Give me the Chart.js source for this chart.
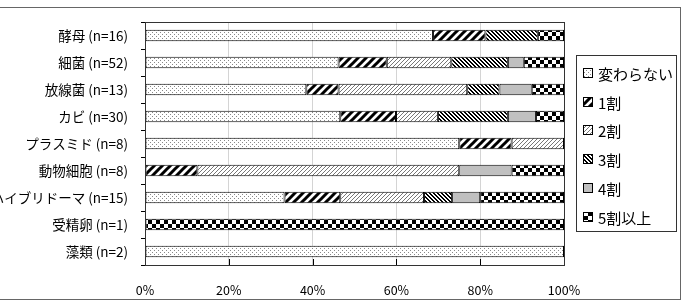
<!DOCTYPE html>
<html>
<head>
<meta charset="utf-8">
<script src="https://cdn.jsdelivr.net/npm/chart.js@4"></script>
<style>
  body { margin: 0; background: #fff; }
  #wrap { width: 687px; height: 301px; }
</style>
</head>
<body>
<div id="wrap"><canvas id="myChart"></canvas></div>
<script>
const categories = ["酵母 (n=16)", "細菌 (n=52)", "放線菌 (n=13)", "カビ (n=30)", "プラスミド (n=8)", "動物細胞 (n=8)", "ハイブリドーマ (n=15)", "受精卵 (n=1)", "藻類 (n=2)"];
const seriesNames = ["変わらない", "1割", "2割", "3割", "4割", "5割以上"];
const noChange = [68.75, 46.2, 38.5, 46.6, 75.0, 0, 33.3, 0, 100];
const down10 = [12.5, 11.5, 7.7, 13.3, 12.5, 12.5, 13.3, 0, 0];
const down20 = [0, 15.4, 30.7, 10.0, 12.5, 62.5, 20.0, 0, 0];
const down30 = [12.5, 13.5, 7.7, 16.7, 0, 0, 6.7, 0, 0];
const down40 = [0, 3.8, 7.7, 6.7, 0, 12.5, 6.7, 0, 0];
const down50 = [6.25, 9.6, 7.7, 6.7, 0, 12.5, 20.0, 100, 0];
const xTicks = [0, 20, 40, 60, 80, 100];

document.addEventListener("DOMContentLoaded", chart);

function makePattern(w, h, draw) {
  const c = document.createElement("canvas");
  c.width = w;
  c.height = h;
  const g = c.getContext("2d");
  g.fillStyle = "#fff";
  g.fillRect(0, 0, w, h);
  draw(g);
  return g.createPattern(c, "repeat");
}

function patterns() {
  const dots = makePattern(4, 4, (g) => {
    g.fillStyle = "#888";
    g.fillRect(0, 0, 1, 1);
    g.fillRect(2, 2, 1, 1);
  });
  const bold = makePattern(8, 8, (g) => {
    g.strokeStyle = "#000";
    g.lineWidth = 3;
    g.beginPath();
    g.moveTo(-2, 2); g.lineTo(2, -2);
    g.moveTo(0, 8); g.lineTo(8, 0);
    g.moveTo(6, 10); g.lineTo(10, 6);
    g.stroke();
  });
  const fine = makePattern(4, 4, (g) => {
    g.fillStyle = "#777";
    for (let i = 0; i < 4; i++) g.fillRect(3 - i, i, 1, 1);
  });
  const back = makePattern(4, 4, (g) => {
    g.fillStyle = "#000";
    for (let i = 0; i < 4; i++) {
      g.fillRect(i, i, 1, 1);
      g.fillRect((i + 1) % 4, i, 1, 1);
    }
  });
  const checker = makePattern(8, 8, (g) => {
    g.fillStyle = "#000";
    g.fillRect(0, 0, 4, 4);
    g.fillRect(4, 4, 4, 4);
  });
  return [dots, bold, fine, back, "#c0c0c0", checker];
}

const frame = {
  id: "frame",
  beforeDraw(chart) {
    const ctx = chart.ctx;
    ctx.save();
    ctx.fillStyle = "#fff";
    ctx.fillRect(0, 0, chart.width, chart.height);
    ctx.strokeStyle = "#666";
    ctx.lineWidth = 1;
    ctx.strokeRect(-5.5, 7.5, 686, 292);
    ctx.restore();
  },
  afterDraw(chart) {
    const ctx = chart.ctx;
    const a = chart.chartArea;
    const x = chart.scales.x;
    ctx.save();
    ctx.strokeStyle = "#333";
    ctx.lineWidth = 1;
    ctx.strokeRect(a.left + 0.5, a.top + 0.5, a.right - a.left, a.bottom - a.top);
    ctx.strokeStyle = "#000";
    ctx.beginPath();
    xTicks.slice(1, -1).forEach((v) => {
      const px = Math.round(x.getPixelForValue(v)) + 0.5;
      ctx.moveTo(px, a.bottom - 6);
      ctx.lineTo(px, a.bottom);
    });
    ctx.stroke();

    // legend box
    ctx.strokeStyle = "#333";
    ctx.strokeRect(576.5, 55.5, 100, 176);
    ctx.font = '15px "Noto Sans CJK JP", sans-serif';
    ctx.textBaseline = "middle";
    chart.data.datasets.forEach((ds, i) => {
      const y = Math.round(73 + i * 28.7);
      ctx.fillStyle = ds.backgroundColor;
      ctx.fillRect(583, y - 5, 10, 10);
      ctx.strokeStyle = "#000";
      ctx.strokeRect(583.5, y - 4.5, 9, 9);
      ctx.fillStyle = "#000";
      ctx.fillText(ds.label, 598, y + 1);
    });
    ctx.restore();
  },
};

function chart() {
  const ctx = document.getElementById("myChart");
  const fills = patterns();
  const values = [noChange, down10, down20, down30, down40, down50];
  Chart.defaults.font.family = '"Noto Sans CJK JP", sans-serif';

  new Chart(ctx, {
    type: "bar",
    data: {
      labels: categories,
      datasets: seriesNames.map((name, i) => ({
        label: name,
        data: values[i],
        backgroundColor: fills[i],
        borderColor: "#000",
        borderWidth: 1,
        borderSkipped: false,
        barPercentage: 0.43,
        categoryPercentage: 1,
      })),
    },
    options: {
      indexAxis: "y",
      responsive: true,
      maintainAspectRatio: false,
      animation: false,
      layout: { padding: { top: 22, right: 123, left: 0, bottom: 0 } },
      plugins: {
        legend: { display: false },
        tooltip: { enabled: false },
      },
      scales: {
        x: {
          stacked: true,
          min: 0,
          max: 100,
          afterBuildTicks: (s) => {
            s.ticks = xTicks.map((v) => ({ value: v }));
          },
          ticks: {
            callback: (v) => v + "%",
            color: "#000",
            font: { size: 12.5 },
            padding: 18,
            maxRotation: 0,
          },
          grid: { color: "#d4d4d4", drawTicks: false },
          border: { color: "#000" },
          afterFit: (s) => {
            s.height = 36;
          },
        },
        y: {
          stacked: true,
          ticks: { color: "#000", font: { size: 13.5 }, padding: 13 },
          grid: { drawOnChartArea: false, tickLength: 4, tickColor: "#000" },
          border: { color: "#000" },
          afterFit: (s) => {
            s.width = 145;
          },
        },
      },
    },
    plugins: [frame],
  });
}
</script>
</body>
</html>
